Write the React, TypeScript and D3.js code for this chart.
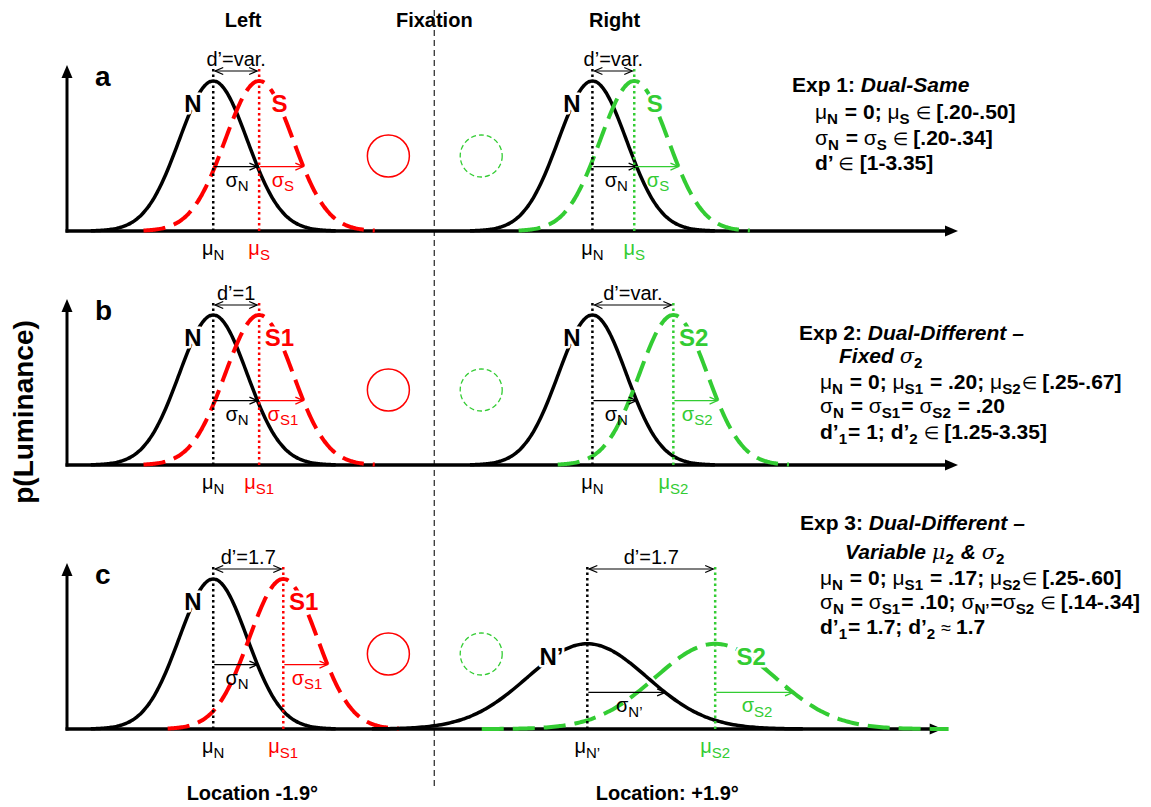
import * as d3 from "d3";
import React from "react";

const W = 1151;
const H = 807;
const FONT = "'Liberation Sans', Arial, Helvetica, 'DejaVu Sans', sans-serif";
const RED = "#ff0000";
const GREEN = "#33cc33";

// positions along x are in units of the left noise SD
const panelLetters = ["a", "b", "c"];
const baselines = [231, 465, 729];
const axisEnds = [21.9, 21.9, 21.45];
const leftNoiseMeans = [0, 0, 0];
const leftNoiseSds = [1, 1, 1];
const leftSignalMeans = [1.35, 1.35, 2.06];
const leftSignalSds = [1, 1, 1];
const rightNoiseMeans = [11.15, 11.15, 11.0];
const rightNoiseSds = [1, 1, 1.76];
const rightSignalMeans = [12.38, 13.53, 14.76];
const rightSignalSds = [1, 1, 1.76];
const rightSignalTails = [3.4, 3.4, 3.9];
const leftNoiseNames = ["N", "N", "N"];
const leftSignalNames = ["S", "S1", "S1"];
const rightNoiseNames = ["N", "N", "N’"];
const rightSignalNames = ["S", "S2", "S2"];
const leftDPrime = ["d’=var.", "d’=1", "d’=1.7"];
const rightDPrime = ["d’=var.", "d’=var.", "d’=1.7"];
const fixationX = 6.5;
const leftStimX = 5.15;
const rightStimX = 7.88;

const headers = ["Left", "Fixation", "Right"];
const footers = ["Location -1.9°", "Location: +1.9°"];

type Seg = { t: string; s?: string };

const exp1Lines: Seg[][] = [
  [{ t: "Exp 1: " }, { t: "Dual-Same", s: "bi" }],
  [{ t: "μ", s: "g" }, { t: "N", s: "sub" }, { t: " = 0; " }, { t: "μ", s: "g" }, { t: "S", s: "sub" }, { t: " ∈ ", s: "r" }, { t: "[.20-.50]" }],
  [{ t: "σ", s: "g" }, { t: "N", s: "sub" }, { t: " = " }, { t: "σ", s: "g" }, { t: "S", s: "sub" }, { t: " ∈ ", s: "r" }, { t: "[.20-.34]" }],
  [{ t: "d’ " }, { t: "∈", s: "r" }, { t: " [1-3.35]" }],
];
const exp2Lines: Seg[][] = [
  [{ t: "Exp 2: " }, { t: "Dual-Different –", s: "bi" }],
  [{ t: "Fixed ", s: "bi" }, { t: "σ", s: "gi" }, { t: "2", s: "sub" }],
  [{ t: "μ", s: "g" }, { t: "N", s: "sub" }, { t: " = 0; " }, { t: "μ", s: "g" }, { t: "S1", s: "sub" }, { t: " = .20; " }, { t: "μ", s: "g" }, { t: "S2", s: "sub" }, { t: "∈ ", s: "r" }, { t: "[.25-.67]" }],
  [{ t: "σ", s: "g" }, { t: "N", s: "sub" }, { t: " = " }, { t: "σ", s: "g" }, { t: "S1", s: "sub" }, { t: "= " }, { t: "σ", s: "g" }, { t: "S2", s: "sub" }, { t: " = .20" }],
  [{ t: "d’" }, { t: "1", s: "sub" }, { t: "= 1; d’" }, { t: "2", s: "sub" }, { t: " ∈ ", s: "r" }, { t: "[1.25-3.35]" }],
];
const exp3Lines: Seg[][] = [
  [{ t: "Exp 3: " }, { t: "Dual-Different –", s: "bi" }],
  [{ t: "Variable ", s: "bi" }, { t: "μ", s: "gi" }, { t: "2", s: "sub" }, { t: " & ", s: "bi" }, { t: "σ", s: "gi" }, { t: "2", s: "sub" }],
  [{ t: "μ", s: "g" }, { t: "N", s: "sub" }, { t: " = 0; " }, { t: "μ", s: "g" }, { t: "S1", s: "sub" }, { t: " = .17; " }, { t: "μ", s: "g" }, { t: "S2", s: "sub" }, { t: "∈ ", s: "r" }, { t: "[.25-.60]" }],
  [{ t: "σ", s: "g" }, { t: "N", s: "sub" }, { t: " = " }, { t: "σ", s: "g" }, { t: "S1", s: "sub" }, { t: "= .10; " }, { t: "σ", s: "g" }, { t: "N’", s: "sub" }, { t: "=" }, { t: "σ", s: "g" }, { t: "S2", s: "sub" }, { t: " ∈ ", s: "r" }, { t: "[.14-.34]" }],
  [{ t: "d’" }, { t: "1", s: "sub" }, { t: "= 1.7; d’" }, { t: "2", s: "sub" }, { t: " ≈ ", s: "r" }, { t: "1.7" }],
];
const expBlocks = [exp1Lines, exp2Lines, exp3Lines];
const expLinePos: [number, number][][] = [
  [[792, 92], [815, 119], [815, 145], [815, 170]],
  [[799, 340], [839, 363], [820, 389], [820, 413], [820, 439]],
  [[800, 530], [845, 559], [820, 585], [820, 609], [820, 634]],
];

const pdf = (v: number, m: number, s: number) =>
  Math.exp(-0.5 * ((v - m) / s) ** 2) / (s * Math.sqrt(2 * Math.PI));

function RichText({ x, y, segs, size, fill = "#000", anchor = "start", weight = "normal" }: any) {
  let shifted = false;
  const sh = size * 0.24;
  return (
    <text x={x} y={y} fontSize={size} fill={fill} textAnchor={anchor} fontWeight={weight} fontFamily={FONT}>
      {segs.map((sg: Seg, i: number) => {
        const isSub = sg.s === "sub" || sg.s === "rsub";
        let dy = 0;
        let dx = 0;
        if (isSub && !shifted) { dy = sh; shifted = true; }
        else if (!isSub && shifted) { dy = -sh; dx = 1; shifted = false; }
        const props: any = {};
        if (sg.s === "bi") { props.fontWeight = "bold"; props.fontStyle = "italic"; }
        if (sg.s === "g") props.fontWeight = "normal";
        if (sg.s === "r") { props.fontWeight = "normal"; props.fontSize = size * 0.85; }
        if (sg.s === "gi") { props.fontWeight = "normal"; props.fontStyle = "italic"; props.fontFamily = "'DejaVu Serif', serif"; }
        if (sg.s === "sub") props.fontSize = size * 0.72;
        if (sg.s === "rsub") { props.fontSize = size * 0.75; props.fontWeight = "normal"; }
        return (
          <tspan key={i} dy={dy || undefined} dx={dx || undefined} {...props}>{sg.t}</tspan>
        );
      })}
    </text>
  );
}

function Side({ x, y, base, nm, ns, nName, sm, ss, sName, color, dLabel, sTail }: any) {
  const line = d3.line<[number, number]>().curve(d3.curveMonotoneX);
  const curve = (m: number, s: number, lo: number, hi: number) =>
    line(d3.range(m - lo * s, m + hi * s + 1e-6, 0.04 * s).map((v) => [x(v), y(pdf(v, m, s))] as [number, number]));
  const dists = [
    { m: nm, s: ns, name: nName, c: "#000", marker: "url(#arrBlack)" },
    { m: sm, s: ss, name: sName, c: color, marker: color === RED ? "url(#arrRed)" : "url(#arrGreen)" },
  ];
  const top = base - 163;
  return (
    <g>
      <path d={curve(nm, ns, 3.6, 3.6) || ""} fill="none" stroke="#000" strokeWidth={3.5} />
      <path d={curve(sm, ss, sTail, sTail) || ""} fill="none" stroke={color} strokeWidth={4} strokeDasharray="22 9" />
      {dists.map((d, k) => {
        const ya = y(pdf(d.m + 1.3 * d.s, d.m, d.s));
        return (
          <g key={k}>
            <line x1={x(d.m)} x2={x(d.m)} y1={base} y2={top} stroke={d.c} strokeWidth={2.5} strokeDasharray="2.5 3" />
            <line x1={x(d.m) + 1} x2={x(d.m + 1.3 * d.s)} y1={ya} y2={ya} stroke={d.c} strokeWidth={1.3} markerEnd={d.marker} />
            <RichText x={x(d.m + 0.7 * d.s)} y={ya + 20} size={20} fill={d.c} anchor="middle"
              segs={[{ t: "σ" }, { t: d.name, s: "rsub" }]} />
            <RichText x={x(d.m)} y={base + 24} size={20} fill={d.c} anchor="middle"
              segs={[{ t: "μ" }, { t: d.name, s: "rsub" }]} />
            <text x={x(d.m + (k === 0 ? -0.6 : 0.6) * d.s)} y={y(0.85 * pdf(d.m, d.m, d.s)) + 8.5}
              textAnchor="middle" fontSize={24} fontWeight="bold" fill={d.c} fontFamily={FONT}
              stroke="#fff" strokeWidth={5} paintOrder="stroke" strokeLinejoin="round">{d.name}</text>
          </g>
        );
      })}
      <line x1={x(nm) + 2} x2={x(sm) - 2} y1={base - 160} y2={base - 160} stroke="#000" strokeWidth={1.2}
        markerStart="url(#arrBlackS)" markerEnd="url(#arrBlack)" />
      <text x={(x(nm) + x(sm)) / 2} y={base - 165} textAnchor="middle" fontSize={20} fontFamily={FONT}>{dLabel}</text>
    </g>
  );
}

export default function App() {
  const x = d3.scaleLinear().domain([-4.3, 21.9]).range([67, 958]);
  const headerX = [x(0.88), x(fixationX), x(11.8)];
  const footerX = [x(1.15), x(13.35)];

  return (
    <svg width={W} height={H} style={{ position: "absolute", left: 0, top: 0 }} fontFamily={FONT}>
      <defs>
        {[["arrBlack", "#000"], ["arrRed", RED], ["arrGreen", GREEN]].map(([id, c]) => (
          <marker key={id} id={id} markerUnits="userSpaceOnUse" markerWidth={12} markerHeight={10}
            refX={9} refY={5} orient="auto">
            <path d="M1,1.5 L9,5 L1,8.5" fill="none" stroke={c} strokeWidth={1.3} />
          </marker>
        ))}
        <marker id="arrBlackS" markerUnits="userSpaceOnUse" markerWidth={12} markerHeight={10}
          refX={1} refY={5} orient="auto">
          <path d="M9,1.5 L1,5 L9,8.5" fill="none" stroke="#000" strokeWidth={1.3} />
        </marker>
      </defs>
      <rect width={W} height={H} fill="#fff" />

      {headers.map((h, i) => (
        <text key={h} x={headerX[i]} y={27} textAnchor="middle" fontSize={20} fontWeight="bold">{h}</text>
      ))}

      <line x1={x(fixationX)} x2={x(fixationX)} y1={10} y2={790} stroke="#333" strokeWidth={1.3} strokeDasharray="6 4" />

      {panelLetters.map((letter, i) => {
        const base = baselines[i];
        const y = d3.scaleLinear().domain([0, 0.4]).range([base, base - 150.4]);
        const xEnd = x(axisEnds[i]);
        const x0 = x.range()[0];
        return (
          <g key={letter}>
            <line x1={x0} x2={x0} y1={base + 1.5} y2={base - 154} stroke="#000" strokeWidth={3} />
            <path d={`M${x0},${base - 166} L${x0 - 5.5},${base - 153} L${x0 + 5.5},${base - 153} Z`} fill="#000" />
            <line x1={x0 - 1.5} x2={xEnd - 10} y1={base} y2={base} stroke="#000" strokeWidth={3.5} />
            <path d={`M${xEnd},${base} L${xEnd - 13},${base - 5.5} L${xEnd - 13},${base + 5.5} Z`} fill="#000" />
            <text x={95} y={base - 145} fontSize={28} fontWeight="bold">{letter}</text>
            <circle cx={x(leftStimX)} cy={base - 75} r={21} fill="none" stroke={RED} strokeWidth={1.5} />
            <circle cx={x(rightStimX)} cy={base - 75} r={21} fill="none" stroke={GREEN} strokeWidth={1.3} strokeDasharray="5 3" />
            <Side x={x} y={y} base={base} nm={leftNoiseMeans[i]} ns={leftNoiseSds[i]} nName={leftNoiseNames[i]}
              sm={leftSignalMeans[i]} ss={leftSignalSds[i]} sName={leftSignalNames[i]} color={RED}
              dLabel={leftDPrime[i]} sTail={3.4} />
            <Side x={x} y={y} base={base} nm={rightNoiseMeans[i]} ns={rightNoiseSds[i]} nName={rightNoiseNames[i]}
              sm={rightSignalMeans[i]} ss={rightSignalSds[i]} sName={rightSignalNames[i]} color={GREEN}
              dLabel={rightDPrime[i]} sTail={rightSignalTails[i]} />
          </g>
        );
      })}

      <text transform="translate(33,412) rotate(-90)" textAnchor="middle" fontSize={28} fontWeight="bold">p(Luminance)</text>

      {footers.map((f, i) => (
        <text key={f} x={footerX[i]} y={800} textAnchor="middle" fontSize={20} fontWeight="bold">{f}</text>
      ))}

      {expBlocks.map((lines, b) =>
        lines.map((segs, j) => (
          <RichText key={`${b}-${j}`} x={expLinePos[b][j][0]} y={expLinePos[b][j][1]} segs={segs} size={21} weight="bold" />
        ))
      )}
    </svg>
  );
}
